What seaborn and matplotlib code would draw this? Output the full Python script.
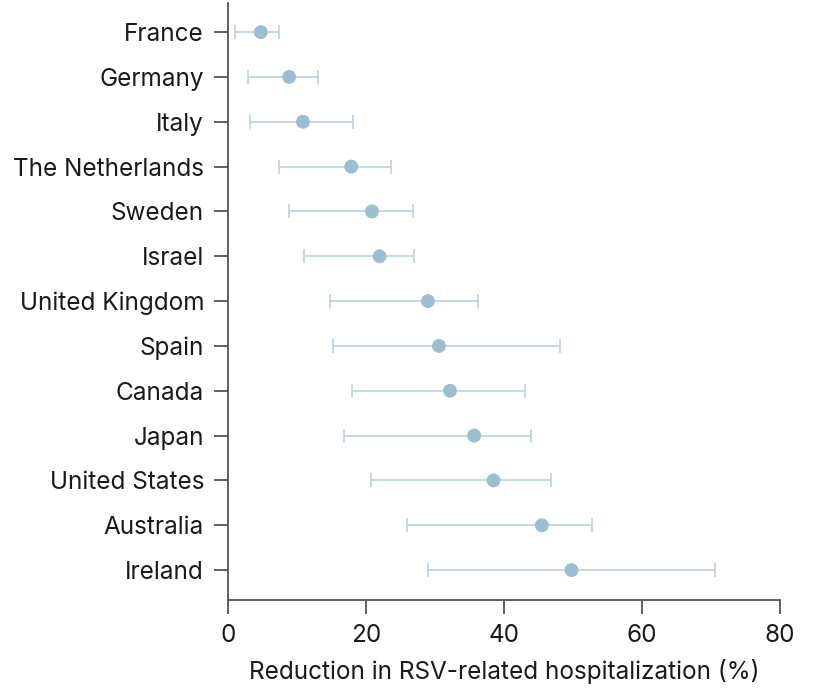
import matplotlib
matplotlib.use("Agg")
import matplotlib.pyplot as plt
import seaborn as sns
import pandas as pd
import numpy as np

countries = ["France", "Germany", "Italy", "The Netherlands", "Sweden", "Israel",
             "United Kingdom", "Spain", "Canada", "Japan", "United States",
             "Australia", "Ireland"]
estimate = [4.8, 8.9, 10.9, 17.9, 20.9, 22.0, 29.0, 30.6, 32.2, 35.7, 38.5, 45.5, 49.8]
lower = [1.0, 2.9, 3.2, 7.4, 8.9, 11.0, 14.8, 15.3, 18.0, 16.9, 20.7, 26.0, 29.0]
upper = [7.4, 13.1, 18.1, 23.6, 26.8, 27.0, 36.2, 48.2, 43.1, 44.0, 46.9, 52.7, 70.6]
xticks = [0, 20, 40, 60, 80]
xlabel = "Reduction in RSV-related hospitalization (%)"

sns.set_theme(style="white")
plt.rcParams["font.family"] = ["Inter", "DejaVu Sans"]

df = pd.DataFrame({"country": countries, "est": estimate, "lo": lower, "hi": upper})
df["pos"] = np.arange(len(df))

fig = plt.figure(figsize=(8.28, 6.93), dpi=100)
ax = fig.add_axes([0.275, 0.134, 0.942 - 0.275, 0.9957 - 0.134])

err = np.vstack([df["est"] - df["lo"], df["hi"] - df["est"]])
ax.errorbar(df["est"], df["pos"], xerr=err, fmt="none", ecolor="#b7cfdb",
            elinewidth=1.1, capsize=5, capthick=1.1, zorder=1)
sns.scatterplot(data=df, x="est", y="pos", ax=ax, s=100, color="#9bbfcf",
                edgecolor="none", zorder=2, legend=False)

ax.set_xlim(0, 80)
ax.set_ylim(len(df) - 1 + 0.67, -0.65)
ax.set_xticks(xticks)
ax.set_xticklabels([str(t) for t in xticks])
ax.set_yticks(df["pos"])
ax.set_yticklabels(countries)
ax.set_xlabel(xlabel, fontsize=17.5, color="#1a1a1a", labelpad=9)
ax.set_ylabel("")

for side in ["top", "right"]:
    ax.spines[side].set_visible(False)
for side in ["left", "bottom"]:
    ax.spines[side].set_color("#555555")
    ax.spines[side].set_linewidth(1.3)

ax.tick_params(axis="both", which="major", direction="out", length=10, width=1.3,
               color="#555555", labelsize=17.5, labelcolor="#1a1a1a", pad=7,
               left=True, bottom=True)

fig.savefig("out.png", dpi=100)
